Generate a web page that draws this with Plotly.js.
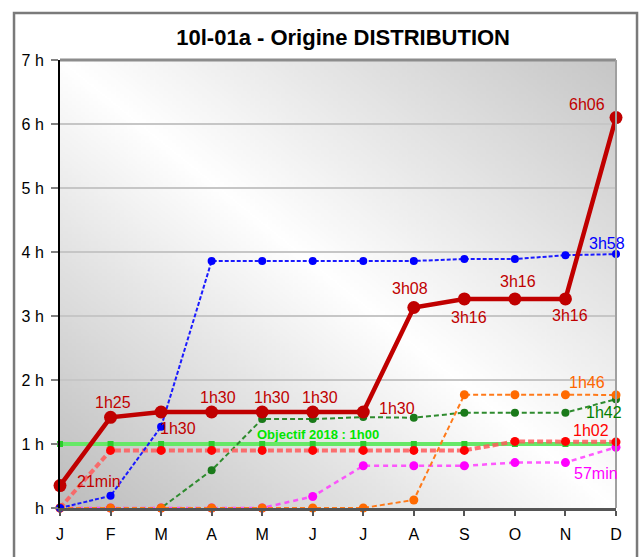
<!DOCTYPE html>
<html>
<head>
<meta charset="utf-8">
<script src="https://cdn.plot.ly/plotly-3.0.1.min.js"></script>
<style>
html,body{margin:0;padding:0;background:#fff;}
#chart{width:639px;height:557px;}
</style>
</head>
<body>
<div id="chart"></div>
<script>
// ---- data ----
const months = ['J','F','M','A','M','J','J','A','S','O','N','D'];
const yTickVals = [0,1,2,3,4,5,6,7];
const yTickText = ['h','1 h','2 h','3 h','4 h','5 h','6 h','7 h'];

const total   = [0.35, 1.417, 1.5, 1.5, 1.5, 1.5, 1.5, 3.133, 3.267, 3.267, 3.267, 6.1];
const blue    = [0, 0.19, 1.27, 3.86, 3.86, 3.86, 3.86, 3.86, 3.89, 3.89, 3.95, 3.967];
const green   = [0, 0, 0, 0.59, 1.39, 1.39, 1.42, 1.41, 1.49, 1.49, 1.49, 1.7];
const orange  = [0, 0, 0, 0, 0, 0, 0, 0.125, 1.77, 1.77, 1.77, 1.767];
const red     = [0, 0.9, 0.9, 0.9, 0.9, 0.9, 0.9, 0.9, 0.9, 1.04, 1.04, 1.033];
const magenta = [0, 0, 0, 0, 0, 0.18, 0.66, 0.66, 0.66, 0.71, 0.71, 0.95];
const objectif = [1,1,1,1,1,1,1,1,1,1,1,1];

const totalLabels = ['21min','1h25','1h30','1h30','1h30','1h30','1h30','3h08','3h16','3h16','3h16','6h06'];
const endLabels = {blue:'3h58', orange:'1h46', green:'1h42', red:'1h02', magenta:'57min'};
const objectifLabel = 'Objectif 2018 : 1h00';
const titleText = '10l-01a - Origine DISTRIBUTION';

// ---- label placement (pixels) ----
const totalOffsets = [[39,-4],[2,-15],[17,16],[6,-15],[10,-15],[7,-15],[34,-4],[-4,-19],[5,19],[3,-17],[5,17],[-29,-13]];

const xs = months.map((m,i)=>i);

// gradient background
const cv = document.createElement('canvas');
cv.width = 256; cv.height = 256;
const ctx = cv.getContext('2d');
const grad = ctx.createLinearGradient(0,256,256,0);
grad.addColorStop(0,'#bcbcbc');
grad.addColorStop(0.5,'#ffffff');
grad.addColorStop(1,'#c6c6c6');
ctx.fillStyle = grad;
ctx.fillRect(0,0,256,256);
const bgURL = cv.toDataURL('image/png');

function tr(y, color, width, dash, mcolor, msize, msymbol){
  return {x: xs, y: y, type:'scatter', mode:'lines+markers', cliponaxis:false,
    line:{color:color, width:width, dash:dash},
    marker:{color:mcolor, size:msize, symbol:msymbol||'circle'},
    hoverinfo:'skip', showlegend:false};
}

const traces = [
  tr(objectif, '#66e866', 4, 'solid', '#2ccc2c', 6, 'square'),
  tr(magenta, 'rgba(255,60,255,0.85)', 2.5, '5px,4px', '#ff00ff', 9),
  tr(green, '#2e8b2e', 2, '5px,3px', '#1a7a1a', 8),
  tr(red, 'rgba(255,90,90,0.85)', 4, '6px,3px', '#ff0000', 9),
  tr(orange, '#ff7a1a', 2, '5px,3px', '#ff6a00', 9),
  tr(blue, '#1a1aff', 2, '4px,2px', '#0000ff', 8),
  tr(total, '#c00000', 4.5, 'solid', '#c00000', 13)
];

const ann = [];
total.forEach((v,i)=>{
  ann.push({x:i, y:v, xref:'x', yref:'y', text: totalLabels[i], showarrow:false,
    xshift: totalOffsets[i][0], yshift: -totalOffsets[i][1],
    font:{family:'Arial, Liberation Sans, sans-serif', size:16, color:'#c00000'}});
});
const last = months.length-1;
const endSpecs = [
  [blue, endLabels.blue, '#0000ff', -9, -11],
  [orange, endLabels.orange, '#ff6600', -29, -12],
  [green, endLabels.green, '#008000', -12, 13],
  [red, endLabels.red, '#ff0000', -25, -11],
  [magenta, endLabels.magenta, '#ff00ff', -20, 26]
];
endSpecs.forEach(s=>{
  ann.push({x:last, y:s[0][last], xref:'x', yref:'y', text:s[1], showarrow:false,
    xshift:s[3], yshift:-s[4],
    font:{family:'Arial, Liberation Sans, sans-serif', size:16, color:s[2]}});
});
ann.push({x:4, y:objectif[4], xref:'x', yref:'y', text:objectifLabel, showarrow:false,
  xanchor:'left', xshift:-7, yshift:10,
  font:{family:'Arial, Liberation Sans, sans-serif', size:13, color:'#00e600', weight:'bold'}});

const layout = {
  width:639, height:557,
  margin:{l:60, r:23, t:60, b:49, pad:0},
  paper_bgcolor:'#ffffff',
  plot_bgcolor:'rgba(0,0,0,0)',
  title:{text:'<b>'+titleText+'</b>', xref:'container', yref:'container', x:0.537, y:1-37/557,
    xanchor:'center', yanchor:'middle',
    font:{family:'Arial, Liberation Sans, sans-serif', size:22, color:'#000'}},
  xaxis:{range:[0,11], tickvals:xs, ticktext:months, showgrid:false, zeroline:false,
    showline:true, linecolor:'#555555', linewidth:3,
    ticks:'outside', ticklen:5, tickwidth:2, tickcolor:'#555555', ticklabelstandoff:5,
    tickfont:{family:'Arial, Liberation Sans, sans-serif', size:16, color:'#000'}, fixedrange:true},
  yaxis:{range:[0,7], tickvals:yTickVals, ticktext:yTickText, showgrid:true, gridcolor:'#c6c6c6', gridwidth:2,
    zeroline:false, showline:true, linecolor:'#000000', linewidth:2,
    ticks:'outside', ticklen:7, tickwidth:2, tickcolor:'#808080', ticklabelstandoff:4,
    tickfont:{family:'Arial, Liberation Sans, sans-serif', size:16, color:'#000'}, fixedrange:true},
  images:[{source:bgURL, xref:'paper', yref:'paper', x:0, y:1, sizex:1, sizey:1,
    sizing:'stretch', xanchor:'left', yanchor:'top', layer:'below'}],
  shapes:[
    {type:'line', xref:'paper', yref:'paper', x0:0, x1:1, y0:1, y1:1, line:{color:'#8c8c8c', width:3}},
    {type:'line', xref:'paper', yref:'paper', x0:1, x1:1, y0:0, y1:1, line:{color:'#a0a0a0', width:2}},
    {type:'rect', xref:'paper', yref:'paper', x0:-0.0827, x1:1.0378, y0:-0.16, y1:1.105,
      line:{color:'#7a7a7a', width:2.5}, fillcolor:'rgba(0,0,0,0)', layer:'above'}
  ],
  annotations: ann,
  showlegend:false
};

Plotly.newPlot('chart', traces, layout, {displayModeBar:false, staticPlot:true});
</script>
</body>
</html>
